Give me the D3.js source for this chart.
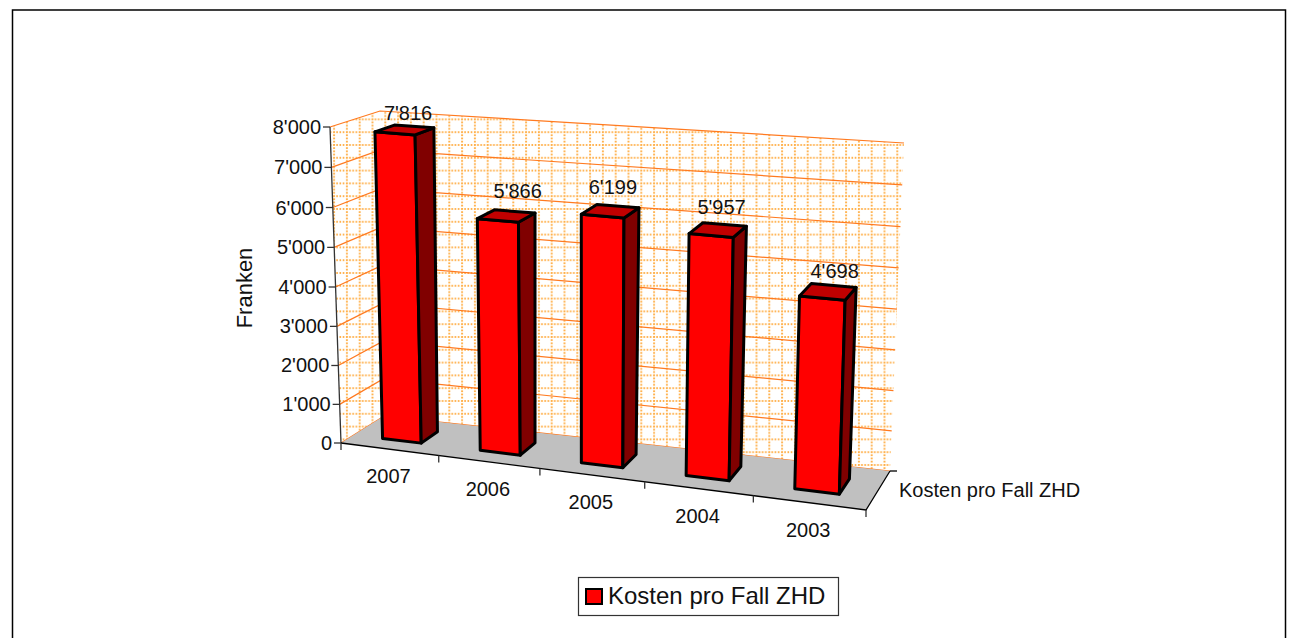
<!DOCTYPE html>
<html>
<head>
<meta charset="utf-8">
<script src="https://d3js.org/d3.v7.min.js"></script>
<style>
  html, body { margin: 0; padding: 0; background: #fff; }
  svg { display: block; }
  text { font-family: "Liberation Sans", Arial, sans-serif; fill: #111; }
</style>
</head>
<body>
<div id="chart"></div>
<script>
// Chart data
const years = ['2007', '2006', '2005', '2004', '2003'];
const costs = [7816, 5866, 6199, 5957, 4698];
const costLabels = ["7'816", "5'866", "6'199", "5'957", "4'698"];
const yTicks = [0, 1000, 2000, 3000, 4000, 5000, 6000, 7000, 8000];
const yTickLabels = ['0', "1'000", "2'000", "3'000", "4'000", "5'000", "6'000", "7'000", "8'000"];
const seriesName = 'Kosten pro Fall ZHD';

const width = 1289, height = 638;

const svg = d3.select('#chart').append('svg')
    .attr('width', width)
    .attr('height', height);

// Corners of the 3D box as seen on screen: [u][v][w]
const box = {
    fbl: [341, 443], fbr: [866, 510], ftl: [330, 127], ftr: [876, 172],
    bbl: [384, 416], bbr: [890, 471], btl: [380, 111], btr: [904, 143]
};

// Perspective squeeze along each axis
const warp = (t, d) => (1 + d) * t / (1 + d * t);
const warpU = -0.085, warpV = -0.025;

// u = along categories, v = up, w = into the picture, all 0..1
function project(u, v, w) {
    const a = warp(u, warpU), b = warp(v, warpV), c = w;
    return [0, 1].map(i =>
        (1 - a) * (1 - b) * (1 - c) * box.fbl[i] +
        a * (1 - b) * (1 - c) * box.fbr[i] +
        (1 - a) * b * (1 - c) * box.ftl[i] +
        a * b * (1 - c) * box.ftr[i] +
        (1 - a) * (1 - b) * c * box.bbl[i] +
        a * (1 - b) * c * box.bbr[i] +
        (1 - a) * b * c * box.btl[i] +
        a * b * c * box.btr[i]);
}

const x = d3.scaleBand().domain(years).range([0, 1]).paddingInner(0.6).paddingOuter(0.3);
const z = d3.scaleBand().domain([seriesName]).range([0, 1]).paddingInner(0.6).paddingOuter(0.3);
const y = d3.scaleLinear().domain([0, 8000]).range([0, 1]);

const line = d3.line();
const poly = pts => line(pts) + 'Z';

// Dotted grid fill of the walls
const defs = svg.append('defs');
const pattern = defs.append('pattern')
    .attr('id', 'wallGrid')
    .attr('patternUnits', 'userSpaceOnUse')
    .attr('width', 12.8)
    .attr('height', 12.8)
    .attr('patternTransform', 'translate(0.3,3.2)');
pattern.append('line').attr('x1', 0).attr('y1', 1).attr('x2', 12.8).attr('y2', 1);
pattern.append('line').attr('x1', 1).attr('y1', 0).attr('x2', 1).attr('y2', 12.8);
pattern.selectAll('line')
    .attr('stroke', '#ffb04a')
    .attr('stroke-width', 2)
    .attr('stroke-dasharray', '1.6 1.6');

// Frame
svg.append('rect')
    .attr('x', 12.5).attr('y', 10)
    .attr('width', 1273).attr('height', 640)
    .attr('fill', '#fff').attr('stroke', '#000').attr('stroke-width', 1.5);

// Walls
const walls = svg.append('g');
walls.append('path')
    .attr('d', poly([project(0, 0, 0), project(0, 1, 0), project(0, 1, 1), project(0, 0, 1)]))
    .attr('fill', 'url(#wallGrid)');
walls.append('path')
    .attr('d', poly([project(0, 0, 1), project(0, 1, 1), project(1, 1, 1), project(1, 0, 1)]))
    .attr('fill', 'url(#wallGrid)');

// Major gridlines along both walls
walls.selectAll('.gridline')
    .data(yTicks)
    .enter()
    .append('path')
    .attr('class', 'gridline')
    .attr('d', d => line([project(0, y(d), 0), project(0, y(d), 1), project(1, y(d), 1)]))
    .attr('fill', 'none')
    .attr('stroke', '#ff7a20')
    .attr('stroke-width', 1.2);

// Floor
svg.append('path')
    .attr('d', poly([project(0, 0, 0), project(1, 0, 0), project(1, 0, 1), project(0, 0, 1)]))
    .attr('fill', '#c0c0c0');

// Axes
const axes = svg.append('g').attr('fill', 'none').attr('stroke', '#000').attr('stroke-width', 1.3);
axes.append('path').attr('d', line([project(0, 0, 0), project(0, 1, 0)])).attr('stroke', '#333');
axes.append('path').attr('d', line([project(0, 0, 0), project(1, 0, 0), project(1, 0, 1)]));

axes.selectAll('.ytick')
    .data(yTicks)
    .enter()
    .append('path')
    .attr('class', 'ytick')
    .attr('stroke', '#333')
    .attr('d', d => {
        const p = project(0, y(d), 0);
        return line([p, [p[0] - 7, p[1]]]);
    });

const xEdges = d3.range(years.length + 1).map(i => i / years.length);
axes.selectAll('.xtick')
    .data(xEdges)
    .enter()
    .append('path')
    .attr('class', 'xtick')
    .attr('stroke', '#333')
    .attr('d', d => {
        const p = project(d, 0, 0);
        return line([p, [p[0], p[1] + 7]]);
    });

axes.append('path')
    .attr('d', () => {
        const p = project(1, 0, 1);
        return line([p, [p[0] + 7, p[1]]]);
    });

// Tick labels
svg.selectAll('.ylabel')
    .data(yTicks)
    .enter()
    .append('text')
    .attr('class', 'ylabel')
    .attr('x', d => project(0, y(d), 0)[0] - 9)
    .attr('y', d => project(0, y(d), 0)[1] + 7)
    .attr('text-anchor', 'end')
    .style('font-size', '20px')
    .text((d, i) => yTickLabels[i]);

svg.selectAll('.xlabel')
    .data(years)
    .enter()
    .append('text')
    .attr('class', 'xlabel')
    .attr('x', d => project(x(d) + x.bandwidth() / 2, 0, 0)[0] - 1)
    .attr('y', d => project(x(d) + x.bandwidth() / 2, 0, 0)[1] + 34)
    .attr('text-anchor', 'middle')
    .style('font-size', '20px')
    .text(d => d);

svg.append('text')
    .attr('x', 899).attr('y', 497)
    .style('font-size', '20px')
    .text(seriesName);

svg.append('text')
    .attr('transform', 'translate(252,288) rotate(-90)')
    .attr('text-anchor', 'middle')
    .style('font-size', '22px')
    .text('Franken');

// Bars, each drawn as front, side and top face
const z0 = z(seriesName), z1 = z0 + z.bandwidth();
const bars = svg.selectAll('.bar')
    .data(years.map((d, i) => ({year: d, value: costs[i], label: costLabels[i]})))
    .enter()
    .append('g')
    .attr('class', 'bar')
    .attr('stroke', '#000')
    .attr('stroke-width', 3)
    .attr('stroke-linejoin', 'round');

bars.append('path')
    .attr('fill', '#ff0000')
    .attr('d', d => {
        const u0 = x(d.year), u1 = u0 + x.bandwidth(), v = y(d.value);
        return poly([project(u0, 0, z0), project(u1, 0, z0), project(u1, v, z0), project(u0, v, z0)]);
    });
bars.append('path')
    .attr('fill', '#800000')
    .attr('d', d => {
        const u1 = x(d.year) + x.bandwidth(), v = y(d.value);
        return poly([project(u1, 0, z0), project(u1, 0, z1), project(u1, v, z1), project(u1, v, z0)]);
    });
bars.append('path')
    .attr('fill', '#c00000')
    .attr('d', d => {
        const u0 = x(d.year), u1 = u0 + x.bandwidth(), v = y(d.value);
        return poly([project(u0, v, z0), project(u1, v, z0), project(u1, v, z1), project(u0, v, z1)]);
    });

// Value labels above the bars, nudged the way the original placed them
const labelNudgeX = [-6, 3, -5, -3, 1];
const labelNudgeY = [-6, -13, -12, -10, -7];
svg.selectAll('.value')
    .data(years)
    .enter()
    .append('text')
    .attr('class', 'value')
    .attr('x', (d, i) => project(x(d) + x.bandwidth() / 2, y(costs[i]), z1)[0] + labelNudgeX[i])
    .attr('y', (d, i) => project(x(d) + x.bandwidth() / 2, y(costs[i]), z1)[1] + labelNudgeY[i])
    .attr('text-anchor', 'middle')
    .style('font-size', '20px')
    .text((d, i) => costLabels[i]);

// Legend
svg.append('rect')
    .attr('x', 578.5).attr('y', 577.5)
    .attr('width', 260).attr('height', 38)
    .attr('fill', '#fff').attr('stroke', '#333').attr('stroke-width', 1.2);
svg.append('rect')
    .attr('x', 586).attr('y', 589)
    .attr('width', 16).attr('height', 15)
    .attr('fill', '#ff0000').attr('stroke', '#000').attr('stroke-width', 2);
svg.append('text')
    .attr('x', 608).attr('y', 604)
    .style('font-size', '24px')
    .text(seriesName);
</script>
</body>
</html>
